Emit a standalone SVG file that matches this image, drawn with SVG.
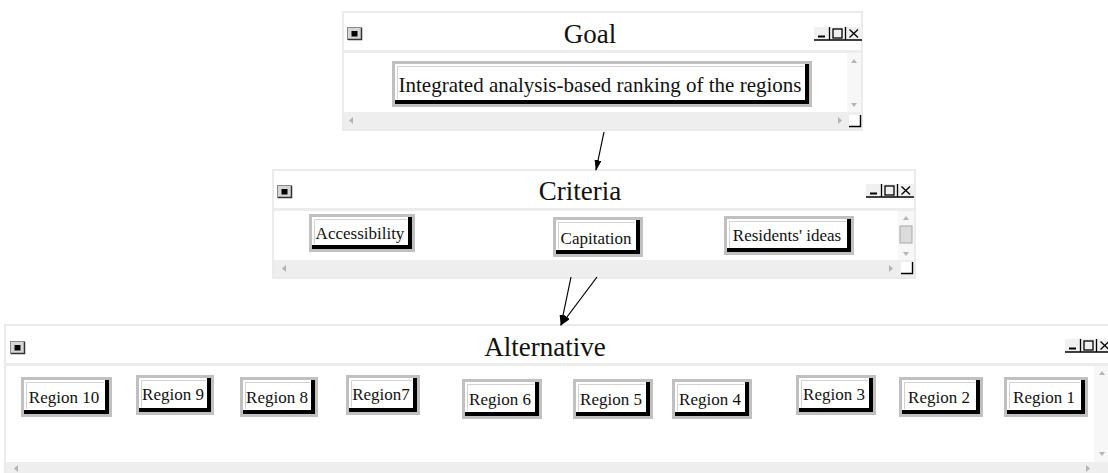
<svg xmlns="http://www.w3.org/2000/svg" width="1108" height="473" viewBox="0 0 1108 473">
<defs>
<style>
.win{fill:#fff;stroke:#ebebeb;stroke-width:2}
.sep{fill:#ececec}
.hs{fill:#eeeeee}
.vs{fill:#f7f7f7}
.ttl{font-family:"Liberation Serif","Times New Roman",serif;font-size:27px;fill:#111;text-anchor:middle}
.lbl{font-family:"Liberation Serif","Times New Roman",serif;font-size:17px;fill:#111;text-anchor:middle}
.big{font-family:"Liberation Serif","Times New Roman",serif;font-size:21px;fill:#111;text-anchor:middle}
.bo{fill:#c0c0c0}
.bs{fill:#000}
.bf{fill:#fff}
.bh{fill:none;stroke:#d2d2d2;stroke-width:1}
.sa{fill:#b4b4b4}
.conn{stroke:#000;stroke-width:1.2;fill:none}
.ico{fill:#d6d6d6;stroke:#8a8a8a;stroke-width:1}
.ctl{fill:#f0f0f0}
.cl{stroke:#000;stroke-width:1.3;fill:none}
</style>
<marker id="ah" markerWidth="11" markerHeight="7" refX="10" refY="3.5" orient="auto" markerUnits="userSpaceOnUse">
<path d="M0,0 L11,3.5 L0,7 z" fill="#000"/>
</marker>
<g id="sysicon">
<rect class="ico" x="0.5" y="0.5" width="14" height="12"/>
<path d="M1,12.5 H14.5 V1" stroke="#333" stroke-width="1.5" fill="none"/>
<rect x="4.5" y="4" width="6" height="5.5" fill="#000"/>
</g>
<g id="ctls">
<rect class="ctl" x="0" y="0" width="48" height="13"/>
<path class="cl" d="M0,13 H48 M15.5,0 V13 M31.5,0 V13"/>
<path d="M4,9.5 H11" stroke="#000" stroke-width="2"/>
<rect x="19" y="2" width="9" height="9" fill="none" stroke="#000" stroke-width="1.3"/>
<path class="cl" d="M35.5,2.5 L44,10.5 M44,2.5 L35.5,10.5"/>
</g>
<g id="corner">
<rect x="0" y="0" width="12" height="12" fill="#fff"/>
<path d="M0,11.5 H11.5 V0" stroke="#000" stroke-width="1.4" fill="none"/>
</g>
</defs>
<rect width="1108" height="473" fill="#fff"/>

<!-- Goal window -->
<g id="win-goal">
<rect class="win" x="343" y="12" width="519" height="118"/>
<rect class="sep" x="344" y="50" width="517" height="3"/>
<rect class="vs" x="847" y="53" width="14" height="59"/>
<path class="sa" d="M851,63 L854,59 L857,63 z"/>
<path class="sa" d="M851,103 L854,107 L857,103 z"/>
<rect class="hs" x="344" y="112" width="517" height="17"/>
<path class="sa" d="M353,117 L349,120.5 L353,124 z"/>
<path class="sa" d="M838,117 L842,120.5 L838,124 z"/>
<use href="#corner" x="849" y="115"/>
<use href="#sysicon" x="347" y="27"/>
<use href="#ctls" x="814" y="27"/>
<text class="ttl" x="590" y="43">Goal</text>
</g>
<g id="node-goal">
<rect class="bo" x="392" y="61" width="420" height="46"/>
<rect class="bs" x="395" y="64" width="414" height="40"/>
<rect class="bf" x="395" y="64" width="410" height="36"/>
<path class="bh" d="M397.5,99 V66.5 H804"/>
<text class="big" x="600" y="92">Integrated analysis-based ranking of the regions</text>
</g>

<!-- Criteria window -->
<g id="win-criteria">
<rect class="win" x="273" y="170" width="642" height="108"/>
<rect class="sep" x="274" y="208" width="640" height="3"/>
<rect class="vs" x="898" y="211" width="16" height="49"/>
<path class="sa" d="M903,220 L906,216 L909,220 z"/>
<path class="sa" d="M903,252 L906,256 L909,252 z"/>
<rect x="900" y="226" width="12" height="17" fill="#dcdcdc" stroke="#a8a8a8" stroke-width="1"/>
<rect class="hs" x="274" y="260" width="640" height="17"/>
<path class="sa" d="M286,265 L282,268.5 L286,272 z"/>
<path class="sa" d="M889,265 L893,268.5 L889,272 z"/>
<use href="#corner" x="901" y="262"/>
<use href="#sysicon" x="277" y="185"/>
<use href="#ctls" x="866" y="184"/>
<text class="ttl" x="580" y="200">Criteria</text>
</g>
<g id="node-accessibility">
<rect class="bo" x="309" y="214" width="106" height="38"/>
<rect class="bs" x="312" y="217" width="100" height="32"/>
<rect class="bf" x="312" y="217" width="96" height="28"/>
<path class="bh" d="M314.5,244 V219.5 H407"/>
<text class="lbl" x="360" y="239">Accessibility</text>
</g>
<g id="node-capitation">
<rect class="bo" x="553" y="217" width="90" height="40"/>
<rect class="bs" x="556" y="220" width="84" height="34"/>
<rect class="bf" x="556" y="220" width="80" height="30"/>
<path class="bh" d="M558.5,249 V222.5 H635"/>
<text class="lbl" x="596" y="244">Capitation</text>
</g>
<g id="node-residents">
<rect class="bo" x="724" y="216" width="130" height="39"/>
<rect class="bs" x="727" y="219" width="124" height="33"/>
<rect class="bf" x="727" y="219" width="120" height="29"/>
<path class="bh" d="M729.5,247 V221.5 H846"/>
<text class="lbl" x="787" y="241">Residents' ideas</text>
</g>

<!-- Alternative window -->
<g id="win-alternative">
<rect class="win" x="5" y="325" width="1106" height="150"/>
<rect class="sep" x="6" y="363" width="1104" height="3"/>
<rect class="vs" x="1094" y="366" width="16" height="96"/>
<path class="sa" d="M1099,375 L1102,371 L1105,375 z"/>
<path class="sa" d="M1099,452 L1102,456 L1105,452 z"/>
<rect class="hs" x="6" y="462" width="1104" height="12"/>
<path class="sa" d="M18,465 L14,468.5 L18,472 z"/>
<path class="sa" d="M1086,465 L1090,468.5 L1086,472 z"/>
<use href="#sysicon" x="10" y="341"/>
<use href="#ctls" x="1065" y="339"/>
<text class="ttl" x="545" y="356">Alternative</text>
</g>
<g id="node-r10">
<rect class="bo" x="21" y="377" width="91" height="40"/>
<rect class="bs" x="24" y="380" width="85" height="34"/>
<rect class="bf" x="24" y="380" width="81" height="30"/>
<path class="bh" d="M26.5,409 V382.5 H104"/>
<text class="lbl" x="64" y="403">Region 10</text>
</g>
<g id="node-r9">
<rect class="bo" x="136" y="375" width="78" height="40"/>
<rect class="bs" x="139" y="378" width="72" height="34"/>
<rect class="bf" x="139" y="378" width="68" height="30"/>
<path class="bh" d="M141.5,407 V380.5 H206"/>
<text class="lbl" x="173" y="400">Region 9</text>
</g>
<g id="node-r8">
<rect class="bo" x="240" y="377" width="78" height="40"/>
<rect class="bs" x="243" y="380" width="72" height="34"/>
<rect class="bf" x="243" y="380" width="68" height="30"/>
<path class="bh" d="M245.5,409 V382.5 H310"/>
<text class="lbl" x="277" y="403">Region 8</text>
</g>
<g id="node-r7">
<rect class="bo" x="346" y="375" width="74" height="40"/>
<rect class="bs" x="349" y="378" width="68" height="34"/>
<rect class="bf" x="349" y="378" width="64" height="30"/>
<path class="bh" d="M351.5,407 V380.5 H412"/>
<text class="lbl" x="381" y="400">Region7</text>
</g>
<g id="node-r6">
<rect class="bo" x="462" y="379" width="80" height="40"/>
<rect class="bs" x="465" y="382" width="74" height="34"/>
<rect class="bf" x="465" y="382" width="70" height="30"/>
<path class="bh" d="M467.5,411 V384.5 H534"/>
<text class="lbl" x="500" y="405">Region 6</text>
</g>
<g id="node-r5">
<rect class="bo" x="573" y="379" width="80" height="40"/>
<rect class="bs" x="576" y="382" width="74" height="34"/>
<rect class="bf" x="576" y="382" width="70" height="30"/>
<path class="bh" d="M578.5,411 V384.5 H645"/>
<text class="lbl" x="611" y="405">Region 5</text>
</g>
<g id="node-r4">
<rect class="bo" x="672" y="379" width="80" height="40"/>
<rect class="bs" x="675" y="382" width="74" height="34"/>
<rect class="bf" x="675" y="382" width="70" height="30"/>
<path class="bh" d="M677.5,411 V384.5 H744"/>
<text class="lbl" x="710" y="405">Region 4</text>
</g>
<g id="node-r3">
<rect class="bo" x="796" y="375" width="80" height="40"/>
<rect class="bs" x="799" y="378" width="74" height="34"/>
<rect class="bf" x="799" y="378" width="70" height="30"/>
<path class="bh" d="M801.5,407 V380.5 H868"/>
<text class="lbl" x="834" y="400">Region 3</text>
</g>
<g id="node-r2">
<rect class="bo" x="899" y="377" width="84" height="40"/>
<rect class="bs" x="902" y="380" width="78" height="34"/>
<rect class="bf" x="902" y="380" width="74" height="30"/>
<path class="bh" d="M904.5,409 V382.5 H975"/>
<text class="lbl" x="939" y="403">Region 2</text>
</g>
<g id="node-r1">
<rect class="bo" x="1004" y="377" width="84" height="40"/>
<rect class="bs" x="1007" y="380" width="78" height="34"/>
<rect class="bf" x="1007" y="380" width="74" height="30"/>
<path class="bh" d="M1009.5,409 V382.5 H1080"/>
<text class="lbl" x="1044" y="403">Region 1</text>
</g>

<g id="connectors">
<line class="conn" x1="604" y1="132" x2="596" y2="170" marker-end="url(#ah)"/>
<line class="conn" x1="571" y1="277" x2="561" y2="325" marker-end="url(#ah)"/>
<line class="conn" x1="597" y1="277" x2="561" y2="325" marker-end="url(#ah)"/>
</g>
</svg>
